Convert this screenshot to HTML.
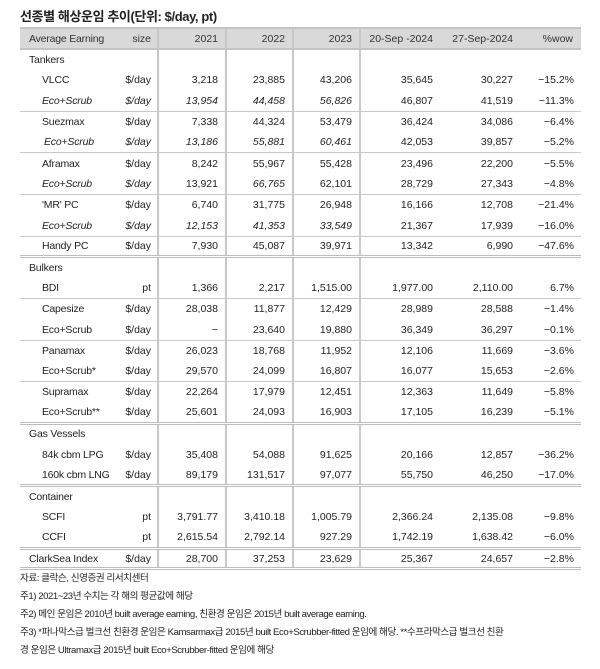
<!DOCTYPE html>
<html><head><meta charset="utf-8"><style>
body{margin:0;background:#fff;width:600px;height:669px;overflow:hidden;font-family:"Liberation Sans","Noto Sans CJK KR",sans-serif;color:#222;}
.title{position:absolute;left:20px;top:6px;font-size:13px;font-weight:bold;letter-spacing:-0.4px}
table{position:absolute;left:20px;top:27px;border-collapse:collapse;table-layout:fixed;width:561px;font-size:10.5px}
td{height:20.8px;padding:0;white-space:nowrap;overflow:hidden;text-align:right;padding-right:7px;box-sizing:border-box}
td.l{text-align:left;padding-left:22px;padding-right:0;letter-spacing:-0.2px}
td.s{padding-left:9px}
td.sz{padding-right:6px}
td.v{border-left:2px solid #c8c8c8}
tr.h td{background:#d9d9d9;height:21px;border-top:2px solid #c4c4c4;border-bottom:2px solid #c4c4c4;color:#333}
tr.h td.l{padding-left:9px}
tr.sep td{border-top:1px solid #c8c8c8}
tr.sec td{border-top:3px double #bdbdbd}
tr.last td{border-bottom:3px double #bdbdbd}
i{font-style:italic}
.notes{position:absolute;left:20px;top:570px;font-size:9.6px;line-height:18px;letter-spacing:-0.45px;color:#222}
</style></head><body>
<div class="title">선종별 해상운임 추이(단위: $/day, pt)</div>
<table>
<colgroup><col style="width:98px"><col style="width:40px"><col style="width:68px"><col style="width:67px"><col style="width:67px"><col style="width:80px"><col style="width:80px"><col style="width:61px"></colgroup>
<tr class="h"><td class="l">Average Earning</td><td class="sz">size</td><td class="v">2021</td><td class="v">2022</td><td class="v">2023</td><td class="v">20-Sep -2024</td><td>27-Sep-2024</td><td style="padding-right:8px">%wow</td></tr>
<tr><td class="l s">Tankers</td><td></td><td class="v"></td><td class="v"></td><td class="v"></td><td class="v"></td><td></td><td></td></tr>
<tr><td class="l">VLCC</td><td class="sz">$/day</td><td class="v">3,218</td><td class="v">23,885</td><td class="v">43,206</td><td class="v">35,645</td><td>30,227</td><td>−15.2%</td></tr>
<tr><td class="l"><i>Eco+Scrub</i></td><td class="sz"><i>$/day</i></td><td class="v"><i>13,954</i></td><td class="v"><i>44,458</i></td><td class="v"><i>56,826</i></td><td class="v">46,807</td><td>41,519</td><td>−11.3%</td></tr>
<tr class="sep"><td class="l">Suezmax</td><td class="sz">$/day</td><td class="v">7,338</td><td class="v">44,324</td><td class="v">53,479</td><td class="v">36,424</td><td>34,086</td><td>−6.4%</td></tr>
<tr><td class="l" style="padding-left:24px"><i>Eco+Scrub</i></td><td class="sz"><i>$/day</i></td><td class="v"><i>13,186</i></td><td class="v"><i>55,881</i></td><td class="v"><i>60,461</i></td><td class="v">42,053</td><td>39,857</td><td>−5.2%</td></tr>
<tr class="sep"><td class="l">Aframax</td><td class="sz">$/day</td><td class="v">8,242</td><td class="v">55,967</td><td class="v">55,428</td><td class="v">23,496</td><td>22,200</td><td>−5.5%</td></tr>
<tr><td class="l"><i>Eco+Scrub</i></td><td class="sz"><i>$/day</i></td><td class="v">13,921</td><td class="v"><i>66,765</i></td><td class="v">62,101</td><td class="v">28,729</td><td>27,343</td><td>−4.8%</td></tr>
<tr class="sep"><td class="l">'MR' PC</td><td class="sz">$/day</td><td class="v">6,740</td><td class="v">31,775</td><td class="v">26,948</td><td class="v">16,166</td><td>12,708</td><td>−21.4%</td></tr>
<tr><td class="l"><i>Eco+Scrub</i></td><td class="sz"><i>$/day</i></td><td class="v"><i>12,153</i></td><td class="v"><i>41,353</i></td><td class="v"><i>33,549</i></td><td class="v">21,367</td><td>17,939</td><td>−16.0%</td></tr>
<tr class="sep"><td class="l">Handy PC</td><td class="sz">$/day</td><td class="v">7,930</td><td class="v">45,087</td><td class="v">39,971</td><td class="v">13,342</td><td>6,990</td><td>−47.6%</td></tr>
<tr class="sec"><td class="l s">Bulkers</td><td></td><td class="v"></td><td class="v"></td><td class="v"></td><td class="v"></td><td></td><td></td></tr>
<tr><td class="l">BDI</td><td class="sz">pt</td><td class="v">1,366</td><td class="v">2,217</td><td class="v">1,515.00</td><td class="v">1,977.00</td><td>2,110.00</td><td>6.7%</td></tr>
<tr class="sep"><td class="l">Capesize</td><td class="sz">$/day</td><td class="v">28,038</td><td class="v">11,877</td><td class="v">12,429</td><td class="v">28,989</td><td>28,588</td><td>−1.4%</td></tr>
<tr><td class="l">Eco+Scrub</td><td class="sz">$/day</td><td class="v">−</td><td class="v">23,640</td><td class="v">19,880</td><td class="v">36,349</td><td>36,297</td><td>−0.1%</td></tr>
<tr class="sep"><td class="l">Panamax</td><td class="sz">$/day</td><td class="v">26,023</td><td class="v">18,768</td><td class="v">11,952</td><td class="v">12,106</td><td>11,669</td><td>−3.6%</td></tr>
<tr><td class="l">Eco+Scrub*</td><td class="sz">$/day</td><td class="v">29,570</td><td class="v">24,099</td><td class="v">16,807</td><td class="v">16,077</td><td>15,653</td><td>−2.6%</td></tr>
<tr class="sep"><td class="l">Supramax</td><td class="sz">$/day</td><td class="v">22,264</td><td class="v">17,979</td><td class="v">12,451</td><td class="v">12,363</td><td>11,649</td><td>−5.8%</td></tr>
<tr><td class="l">Eco+Scrub**</td><td class="sz">$/day</td><td class="v">25,601</td><td class="v">24,093</td><td class="v">16,903</td><td class="v">17,105</td><td>16,239</td><td>−5.1%</td></tr>
<tr class="sec"><td class="l s">Gas Vessels</td><td></td><td class="v"></td><td class="v"></td><td class="v"></td><td class="v"></td><td></td><td></td></tr>
<tr><td class="l">84k cbm LPG</td><td class="sz">$/day</td><td class="v">35,408</td><td class="v">54,088</td><td class="v">91,625</td><td class="v">20,166</td><td>12,857</td><td>−36.2%</td></tr>
<tr><td class="l">160k cbm LNG</td><td class="sz">$/day</td><td class="v">89,179</td><td class="v">131,517</td><td class="v">97,077</td><td class="v">55,750</td><td>46,250</td><td>−17.0%</td></tr>
<tr class="sec"><td class="l s">Container</td><td></td><td class="v"></td><td class="v"></td><td class="v"></td><td class="v"></td><td></td><td></td></tr>
<tr><td class="l">SCFI</td><td class="sz">pt</td><td class="v">3,791.77</td><td class="v">3,410.18</td><td class="v">1,005.79</td><td class="v">2,366.24</td><td>2,135.08</td><td>−9.8%</td></tr>
<tr><td class="l">CCFI</td><td class="sz">pt</td><td class="v">2,615.54</td><td class="v">2,792.14</td><td class="v">927.29</td><td class="v">1,742.19</td><td>1,638.42</td><td>−6.0%</td></tr>
<tr class="sec last"><td class="l s" style="padding-left:9px">ClarkSea Index</td><td class="sz">$/day</td><td class="v">28,700</td><td class="v">37,253</td><td class="v">23,629</td><td class="v">25,367</td><td>24,657</td><td>−2.8%</td></tr>
</table>
<div class="notes">
자료: 클락슨, 신영증권 리서치센터<br>
주1) 2021~23년 수치는 각 해의 평균값에 해당<br>
주2) 메인 운임은 2010년 built average earning, 친환경 운임은 2015년 built average earning.<br>
주3) *파나막스급 벌크선 친환경 운임은 Kamsarmax급 2015년 built Eco+Scrubber-fitted 운임에 해당. **수프라막스급 벌크선 친환<br>
경 운임은 Ultramax급 2015년 built Eco+Scrubber-fitted 운임에 해당
</div>
</body></html>
